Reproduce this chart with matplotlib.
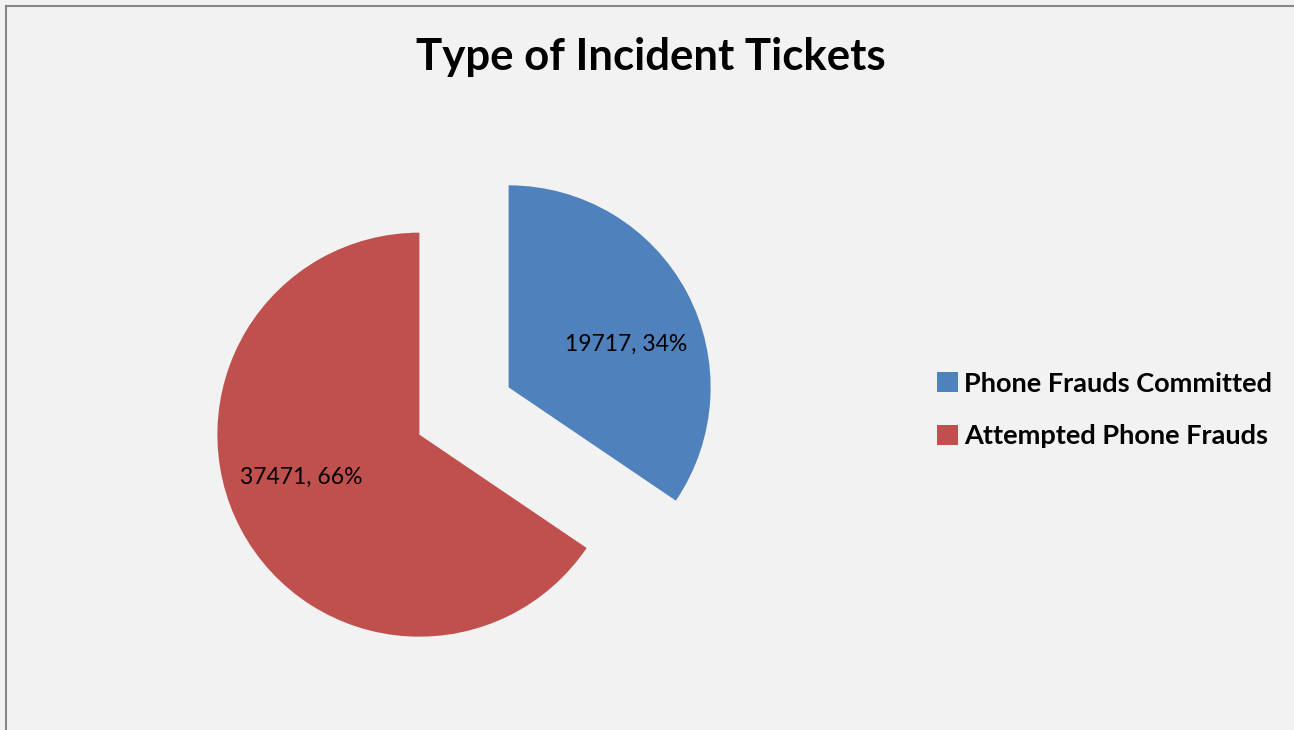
import matplotlib
matplotlib.use('Agg')
import matplotlib.pyplot as plt
import numpy as np

# Data
labels = ['Phone Frauds Committed', 'Attempted Phone Frauds']
counts = [19717, 37471]
colors = ['#4F81BD', '#C0504D']

W, H, DPI = 1294, 730, 100
fig = plt.figure(figsize=(W / DPI, H / DPI), dpi=DPI, facecolor='#F2F2F2')

# pie axes: centre at (464, 411) px, radius 202 px
cx, cy, r = 464, 411, 202
lim = 1.5
side = 2 * r * lim
ax = fig.add_axes([(cx - side / 2) / W, (H - cy - side / 2) / H, side / W, side / H])
ax.set_facecolor('none')

total = sum(counts)
wedges, _ = ax.pie(counts, colors=colors, startangle=90, counterclock=False,
                   explode=[0.25, 0.25], radius=1,
                   wedgeprops=dict(linewidth=0))
ax.set_xlim(-lim, lim)
ax.set_ylim(-lim, lim)
ax.set_aspect('equal')
ax.axis('off')

# data labels, Excel-style "value, pct"
for w, c in zip(wedges, counts):
    mid = np.deg2rad((w.theta1 + w.theta2) / 2 - 8)
    x0, y0 = w.center
    ax.text(x0 + 0.62 * np.cos(mid), y0 + 0.62 * np.sin(mid),
            f"{c}, {c / total * 100:.0f}%", ha='center', va='center',
            fontsize=16.5, family='Lato', color='black')

# title
fig.text(651 / W, 1 - 57 / H, 'Type of Incident Tickets', ha='center', va='center',
         fontsize=31.5, fontweight='bold', family='Lato')

# legend
fig.legend(wedges, labels, loc='center left', bbox_to_anchor=(913 / W, 1 - 410 / H),
           frameon=False, prop=dict(family='Lato', weight='bold', size=19.5),
           handlelength=0.75, handleheight=0.75, handletextpad=0.25, labelspacing=1.05)

# thin frame on top and left
fig.add_artist(plt.Line2D([6 / W, 6 / W], [0, 1 - 6 / H], transform=fig.transFigure,
                          color='#868686', linewidth=1.5))
fig.add_artist(plt.Line2D([6 / W, 1], [1 - 6 / H, 1 - 6 / H], transform=fig.transFigure,
                          color='#868686', linewidth=1.5))

fig.savefig('out.png', dpi=DPI, facecolor=fig.get_facecolor())
